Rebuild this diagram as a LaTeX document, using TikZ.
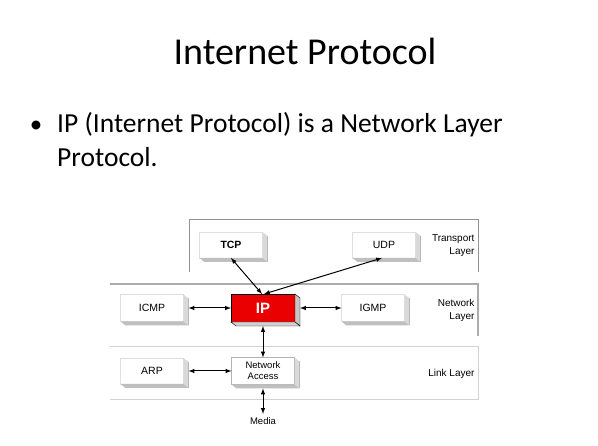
\documentclass[tikz,border=0pt]{standalone}
\usepackage{fontspec}
\setmainfont{Carlito}
\newfontfamily\arialfont{Liberation Sans}
\usetikzlibrary{positioning, arrows, calc}
\tikzset{box/.style={rectangle, fill=white, draw=gray!25, outer sep=0pt, minimum width=63pt, minimum height=27pt, font=\arialfont\fontsize{10.5}{11}\selectfont},
  layerlabel/.style={anchor=east, align=right, font=\arialfont\fontsize{10}{13}\selectfont}}

\begin{document}
\begin{tikzpicture}[x=1pt, y=-1pt, >=latex, node distance=111pt]
    \useasboundingbox (0,0) rectangle (598,446);

    % title and bullet
    \node[anchor=base, inner sep=0pt] (title) at (305,65) {\fontsize{38}{44}\selectfont Internet Protocol};
    \node[anchor=base west, align=left, inner sep=0pt, font=\fontsize{27.5}{34}\selectfont] (bullet) at (57,167) {IP (Internet Protocol) is a Network Layer\\Protocol.};
    \node[anchor=base, inner sep=0pt, font=\fontsize{25}{34}\selectfont] (dot) at (36,133) {\textbullet};

    % layers
    \draw[gray!85, line width=1pt] (189,272) -- (189,220) -- (478,220) -- (478,272);
    \draw[gray!65, line width=1.2pt] (110,284) -- (478,284) -- (478,336);
    \draw[gray!35, line width=1pt] (110,347) -- (478,347) -- (478,400) -- (110,400);

    \node[layerlabel] (transport) at (478,246) {Transport\\Layer};
    \node[layerlabel] (network) at (478,310) {Network\\Layer};
    \node[layerlabel] (link) at (478,374) {Link Layer};

    % boxes
    \node[box, minimum width=64pt, minimum height=28pt, fill=red!92!black, draw=black, text=white, font=\arialfont\bfseries\fontsize{15}{16}\selectfont] (ip) at (263,308) {IP};
    \node[box, left of=ip] (icmp) {ICMP};
    \node[box, right of=ip, node distance=110pt] (igmp) {IGMP};
    \node[box, minimum height=26pt] (tcp) at (231,245) {\textbf{TCP}};
    \node[box, minimum height=26pt] (udp) at (384,245) {UDP};
    \node[box, below of=ip, node distance=63pt, align=center, font=\arialfont\fontsize{9.5}{11}\selectfont, draw=gray!60] (na) {Network\\Access};
    \node[box, left of=na, minimum height=26pt] (arp) {ARP};
    \node[below of=na, node distance=50pt, font=\arialfont\fontsize{9.5}{10}\selectfont] (media) {Media};

    % extrusions
    \foreach \n in {tcp,udp,icmp,igmp,arp,na}{
      \fill[gray!30] (\n.north east) -- ++(5,4) -- ($(\n.south east)+(5,4)$) -- (\n.south east) -- cycle;
      \draw[gray!55] ($(\n.north east)+(5,4)$) -- ($(\n.south east)+(5,4)$);
      \fill[gray!50] (\n.south west) -- (\n.south east) -- ++(5,4) -- ($(\n.south west)+(5,4)$) -- cycle;
    }
    \filldraw[fill=gray!45, draw=black] (ip.north east) -- ++(5,4) -- ($(ip.south east)+(5,4)$) -- (ip.south east) -- cycle;
    \filldraw[fill=gray!35, draw=black] (ip.south west) -- (ip.south east) -- ++(5,4) -- ($(ip.south west)+(5,4)$) -- cycle;

    % connections
    \draw[<->, line width=1pt] (tcp.south) -- ([xshift=-1pt]ip.north);
    \draw[<->, line width=1pt] ([xshift=-2pt]udp.south) -- ([xshift=1pt]ip.north);
    \draw[<->, line width=1pt] ([xshift=5pt]icmp.east) -- (ip.west);
    \draw[<->, line width=1pt] ([xshift=5pt]ip.east) -- (igmp.west);
    \draw[<->, line width=1pt] ([yshift=-4pt]ip.south) -- (na.north);
    \draw[<->, line width=1pt] ([xshift=5pt]arp.east) -- (na.west);
    \draw[<->, line width=1pt] ([yshift=-4pt]na.south) -- (media.north);
\end{tikzpicture}
\end{document}
